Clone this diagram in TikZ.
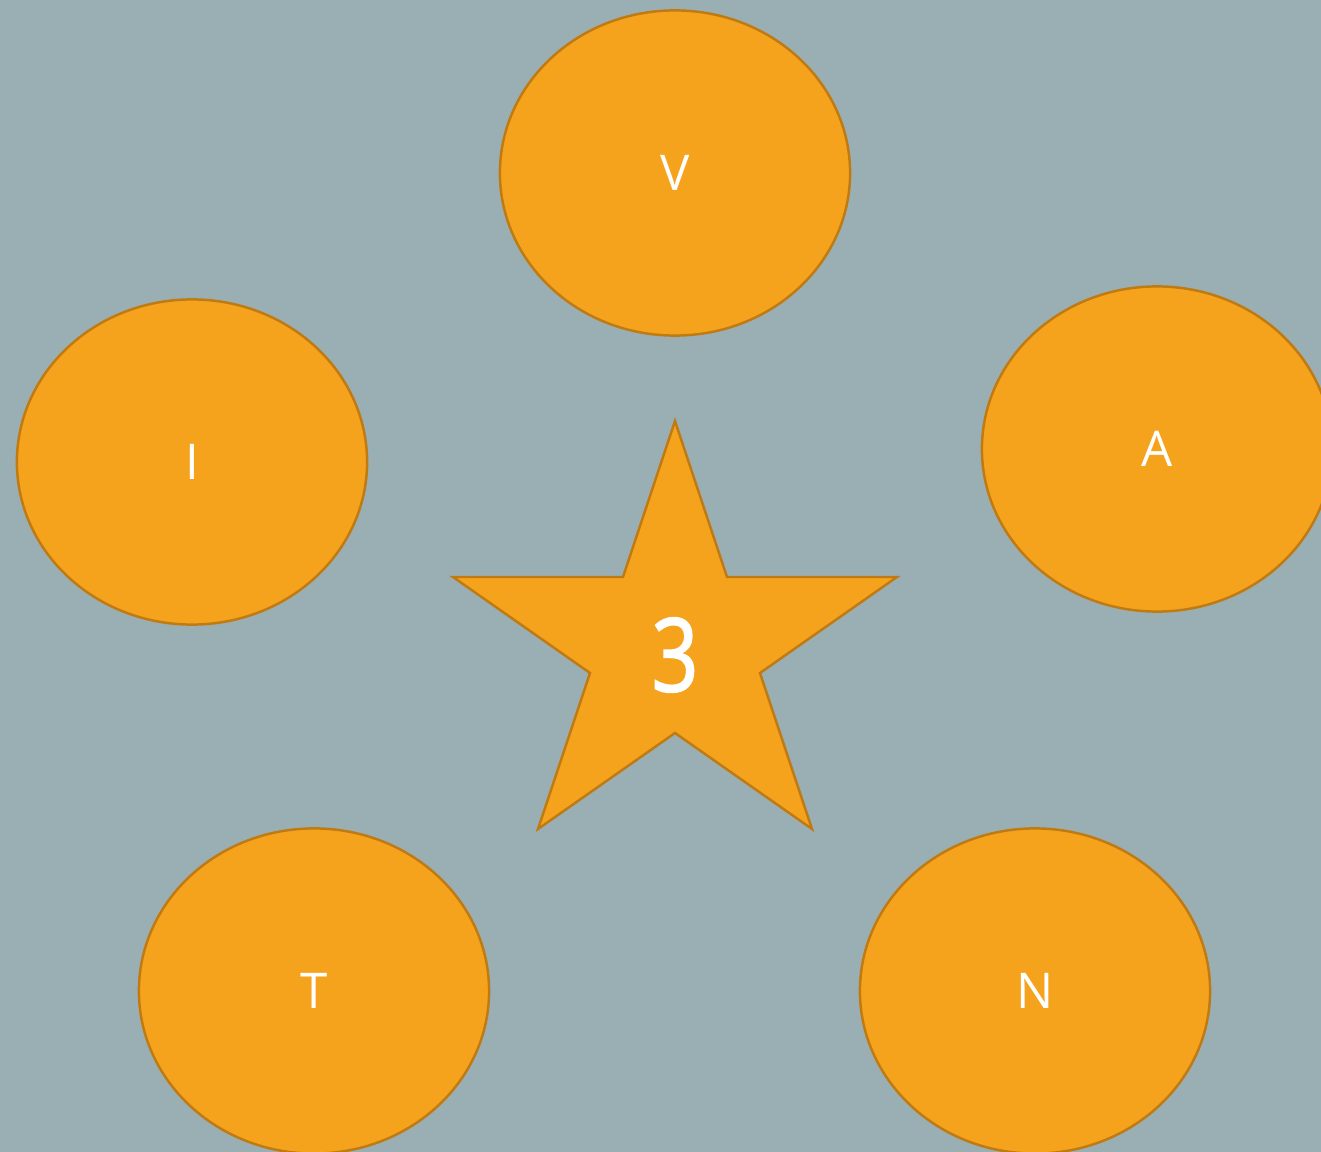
\documentclass[tikz,border=0pt]{standalone}
\usepackage{fontspec}
\setmainfont{Open Sans}
\newfontfamily\numfont[FakeStretch=0.8,FakeBold=1.6]{Open Sans}
\usetikzlibrary{shapes.geometric}
\definecolor{bgslate}{HTML}{9AAFB4}
\definecolor{petal}{HTML}{F5A31D}
\definecolor{petalrim}{HTML}{C07A12}

\begin{document}
\begin{tikzpicture}[x=0.01cm, y=-0.01cm,
    petalnode/.style={ellipse, draw=petalrim, fill=petal, line width=0.7pt,
      minimum width=3.5cm, minimum height=3.25cm, inner sep=0pt,
      text=white, font=\fontsize{14}{16}\selectfont}]
    % background and page size
    \fill[bgslate] (0,0) rectangle (1321,1152);
    \useasboundingbox (0,0) rectangle (1321,1152);
    % the five letters
    \node[petalnode] (v) at (675,173) {V};
    \node[petalnode] (i) at (192,462) {I};
    \node[petalnode] (a) at (1157,449) {A};
    \node[petalnode] (t) at (314,991) {T};
    \node[petalnode] (n) at (1035,991) {N};
    % the star in the middle
    \draw[draw=petalrim, fill=petal, line width=0.7pt, line join=miter]
      (675,421) -- (727,577) -- (897,577) -- (760,673) -- (812,829)
      -- (675,733) -- (538,829) -- (590,673) -- (453,577) -- (623,577) -- cycle;
    \node[text=white, font=\numfont\fontsize{29}{34}\selectfont] (three) at (675,655) {3};
  \end{tikzpicture}
\end{document}
